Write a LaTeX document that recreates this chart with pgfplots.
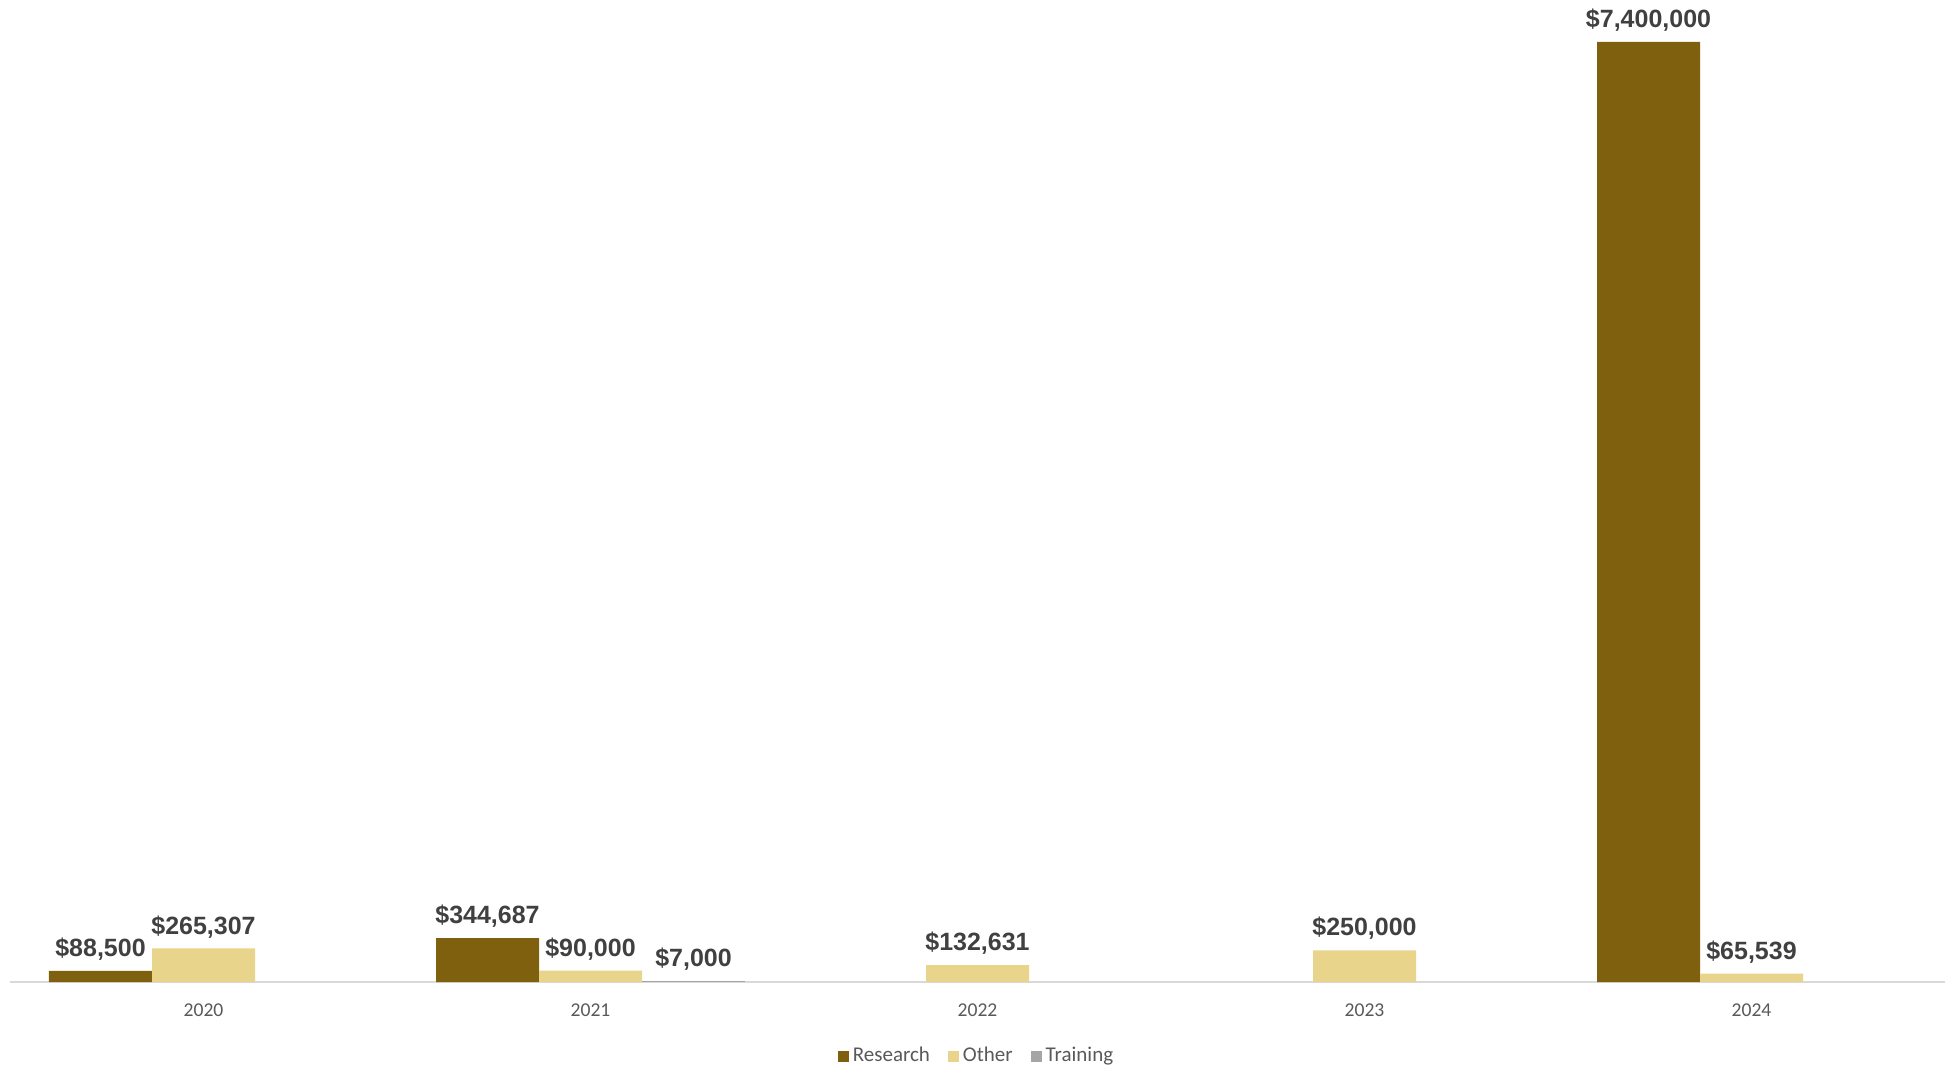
\documentclass[border=0pt]{standalone}
\usepackage{pgfplots}
\pgfplotsset{compat=1.18}
\usepackage{fontspec}
\setmainfont{Carlito}
\newfontfamily\labelfont{Liberation Sans}

\definecolor{research}{RGB}{127,96,14}
\definecolor{other}{RGB}{232,212,138}
\definecolor{training}{RGB}{165,165,165}
\definecolor{lbl}{RGB}{64,64,64}
\definecolor{tick}{RGB}{89,89,89}
\definecolor{axisgray}{RGB}{217,217,217}

\begin{document}
\begin{tikzpicture}
  \begin{axis}[
      scale only axis,
      width=967.5pt,
      height=491pt,
      ybar=0pt,
      bar width=51.5pt,
      xmin=-0.5, xmax=4.5,
      ymin=0, ymax=7730000,
      xtick={0,1,2,3,4},
      xticklabels={2020,2021,2022,2023,2024},
      major tick length=0pt,
      ytick=\empty,
      axis y line=none,
      axis x line=bottom,
      x axis line style={-, draw=axisgray, line width=1pt},
      xticklabel style={font=\fontsize{9.8}{11}\selectfont, text=tick, yshift=-7.5pt},
      /pgf/number format/assume math mode=true,
      clip=false,
      nodes near coords,
      point meta=explicit symbolic,
      every node near coord/.append style={font=\labelfont\bfseries\fontsize{12.5}{14}\selectfont,
        text=lbl, anchor=south, inner sep=0pt, yshift=5pt},
      legend style={at={(0.5,0)}, anchor=center, yshift=-37pt, draw=none,
        font=\fontsize{10.5}{12}\selectfont, text=tick,
        legend columns=-1,
        /tikz/every odd column/.append style={column sep=0pt},
        /tikz/every even column/.append style={column sep=7pt}},
      legend image code/.code={\fill[#1] (0pt,-2.75pt) rectangle (5.5pt,2.75pt);},
    ]
    \addplot[fill=research, draw=none] coordinates {
      (0,88500) [\$88,500]
      (1,344687) [\$344,687]
      (4,7400000) [\$7,400,000]
    };
    \addplot[fill=other, draw=none] coordinates {
      (0,265307) [\$265,307]
      (1,90000) [\$90,000]
      (2,132631) [\$132,631]
      (3,250000) [\$250,000]
      (4,65539) [\$65,539]
    };
    \addplot[fill=training, draw=none] coordinates {
      (1,7000) [\$7,000]
    };
    \legend{Research,Other,Training}
  \end{axis}
  \path[use as bounding box] ([xshift=-5pt,yshift=-43pt]current axis.south west)
    rectangle ([xshift=5.5pt]current axis.north east);
\end{tikzpicture}
\end{document}
